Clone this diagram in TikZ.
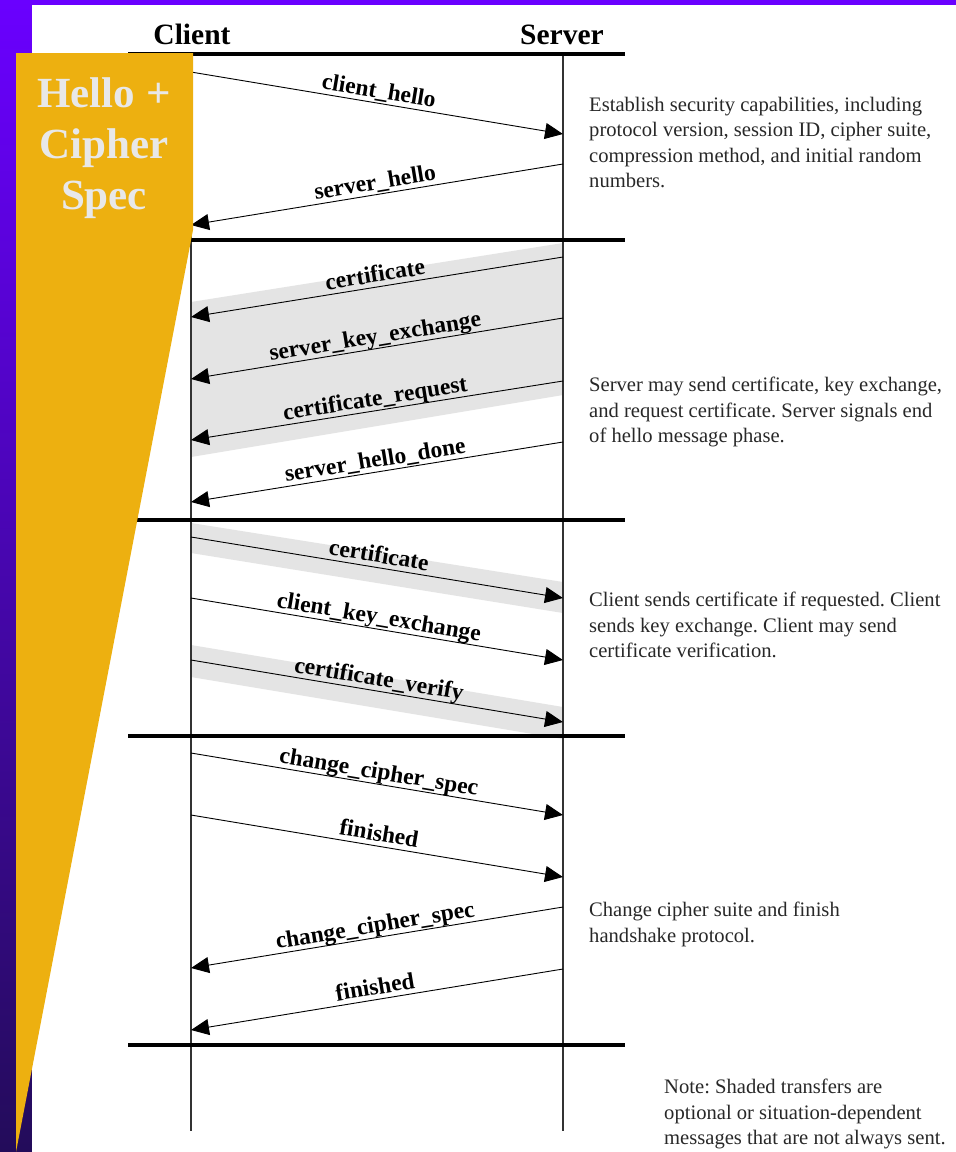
\documentclass[tikz,border=0pt]{standalone}
\usepackage{fontspec}
\setmainfont{Liberation Serif}
\usetikzlibrary{arrows.meta}
\definecolor{violetT}{RGB}{106,0,255}
\definecolor{violetM}{RGB}{88,0,218}
\definecolor{violetB}{RGB}{35,12,90}
\definecolor{gold}{RGB}{237,176,16}
\definecolor{bandgray}{RGB}{228,228,228}
\definecolor{hellotxt}{RGB}{232,232,232}
\definecolor{notetxt}{RGB}{40,40,40}
\frenchspacing
\begin{document}
\begin{tikzpicture}[x=1pt,y=-1pt,
  lifeline/.style={draw=black!80, line width=1.3pt},
  phaserule/.style={draw=black, line width=4pt},
  msg/.style={draw=black, line width=0.9pt, -{Triangle[length=18pt,width=16pt]}},
  lbl/.style={font=\bfseries\fontsize{23.5}{24}\selectfont, sloped, anchor=south, inner sep=0.5pt, text depth=4pt, text height=15pt},
  note/.style={font=\fontsize{20.6}{25.3}\selectfont, text=notetxt, align=left, anchor=north west, inner sep=0pt},
  head/.style={font=\bfseries\fontsize{29.5}{30}\selectfont, anchor=base, inner sep=0pt},
  band/.style={fill=bandgray}
]
\useasboundingbox (0,0) rectangle (956,1152);
% background
\shade[top color=violetT, middle color=violetM, bottom color=violetB] (0,0) rectangle (956,1152);
\fill[white] (32,5) rectangle (956,1152);

% shaded bands (optional transfers)
\fill[band] (191,302) -- (563,243) -- (563,395) -- (191,457) -- cycle;
\fill[band] (191,523) -- (563,582) -- (563,613) -- (191,553) -- cycle;
\fill[band] (191,645) -- (563,707) -- (563,739) -- (191,677) -- cycle;

% headings
\node[head] (client) at (192,44) {Client};
\node[head] (server) at (562,44) {Server};

% lifelines
\coordinate (cTop) at (191,53);
\coordinate (cBot) at (191,1131);
\coordinate (sTop) at (563,53);
\coordinate (sBot) at (563,1131);
\draw[lifeline] (cTop) -- (cBot);
\draw[lifeline] (sTop) -- (sBot);

% phase rules
\draw[phaserule] (128,54) -- (625,54);
\draw[phaserule] (128,240) -- (625,240);
\draw[phaserule] (128,520) -- (625,520);
\draw[phaserule] (128,736) -- (625,736);
\draw[phaserule] (128,1045) -- (625,1045);

% message end points
\coordinate (c1) at (191,72);   \coordinate (s1) at (563,134);
\coordinate (s2) at (563,164);  \coordinate (c2) at (191,225);
\coordinate (s3) at (563,257);  \coordinate (c3) at (191,317);
\coordinate (s4) at (563,318);  \coordinate (c4) at (191,379);
\coordinate (s5) at (563,381);  \coordinate (c5) at (191,440);
\coordinate (s6) at (563,442);  \coordinate (c6) at (191,502);
\coordinate (c7) at (191,537);  \coordinate (s7) at (563,598);
\coordinate (c8) at (191,598);  \coordinate (s8) at (563,660);
\coordinate (c9) at (191,660);  \coordinate (s9) at (563,722);
\coordinate (c10) at (191,753); \coordinate (s10) at (563,815);
\coordinate (c11) at (191,815); \coordinate (s11) at (563,877);
\coordinate (s12) at (563,907); \coordinate (c12) at (191,968);
\coordinate (s13) at (563,969); \coordinate (c13) at (191,1030);

% messages
\draw[msg] (c1) -- node[lbl] {client\_hello} (s1);
\draw[msg] (s2) -- node[lbl] {server\_hello} (c2);
\draw[msg] (s3) -- node[lbl] {certificate} (c3);
\draw[msg] (s4) -- node[lbl] {server\_key\_exchange} (c4);
\draw[msg] (s5) -- node[lbl] {certificate\_request} (c5);
\draw[msg] (s6) -- node[lbl] {server\_hello\_done} (c6);
\draw[msg] (c7) -- node[lbl] {certificate} (s7);
\draw[msg] (c8) -- node[lbl] {client\_key\_exchange} (s8);
\draw[msg] (c9) -- node[lbl] {certificate\_verify} (s9);
\draw[msg] (c10) -- node[lbl] {change\_cipher\_spec} (s10);
\draw[msg] (c11) -- node[lbl] {finished} (s11);
\draw[msg] (s12) -- node[lbl] {change\_cipher\_spec} (c12);
\draw[msg] (s13) -- node[lbl] {finished} (c13);

% notes
\node[note] (n1) at (589,97) {Establish security capabilities, including\\protocol version, session ID, cipher suite,\\compression method, and initial random\\numbers.};
\node[note] (n2) at (589,377) {Server may send certificate, key exchange,\\and request certificate. Server signals end\\of hello message phase.};
\node[note] (n3) at (589,592) {Client sends certificate if requested. Client\\sends key exchange. Client may send\\certificate verification.};
\node[note] (n4) at (589,902) {Change cipher suite and finish\\handshake protocol.};
\node[note] (n5) at (664,1079) {Note: Shaded transfers are\\optional or situation-dependent\\messages that are not always sent.};

% gold callout
\fill[gold] (16,53) -- (193,53) -- (193,230) -- (16,1152) -- cycle;
\node[font=\bfseries\fontsize{43}{51}\selectfont, text=hellotxt, align=center, anchor=north, inner sep=0pt] (hello) at (104,77) {Hello +\\Cipher\\Spec};
\end{tikzpicture}
\end{document}
